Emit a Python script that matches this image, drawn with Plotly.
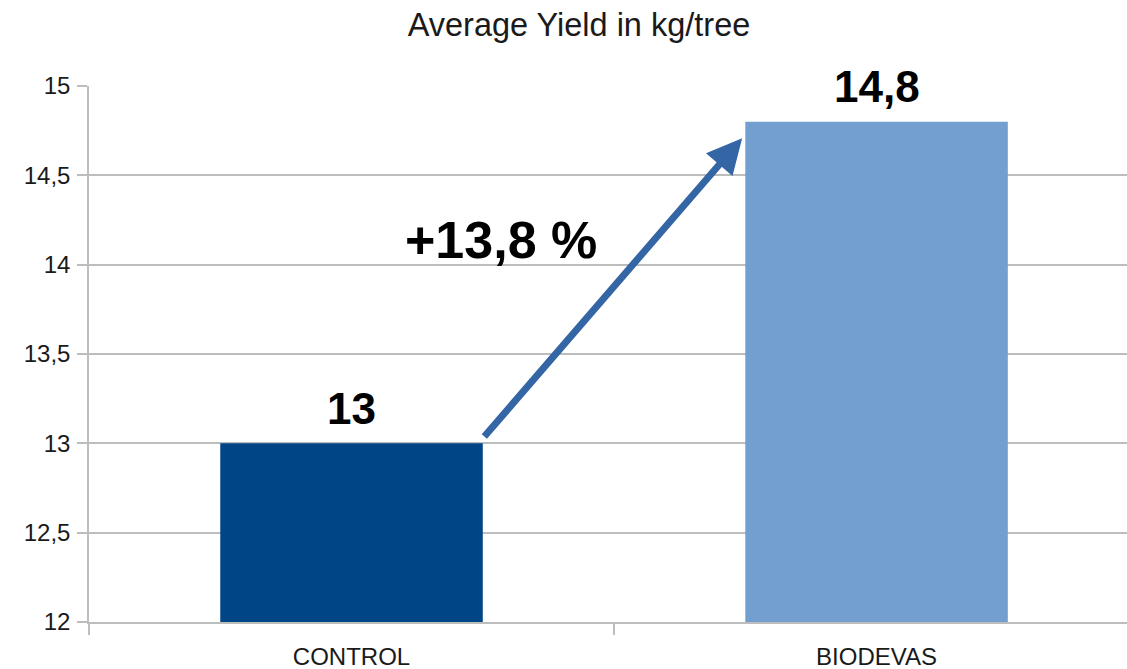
import plotly.graph_objects as go

categories = ["CONTROL", "BIODEVAS"]
values = [13, 14.8]
value_labels = ["13", "14,8"]
bar_colors = ["#004586", "#729fcf"]
change_label = "+13,8 %"
title_text = "Average Yield in kg/tree"
y_ticks = [12, 12.5, 13, 13.5, 14, 14.5, 15]
y_tick_labels = ["12", "12,5", "13", "13,5", "14", "14,5", "15"]

FONT = "Liberation Sans, Arial, sans-serif"
GRID = "#bdbdbd"

fig = go.Figure()
fig.add_trace(go.Bar(
    x=categories, y=values, marker=dict(color=bar_colors, line=dict(width=0)),
    width=0.5, hoverinfo="skip", showlegend=False,
))

# value labels above bars
for c, v, t in zip(categories, values, value_labels):
    fig.add_annotation(x=c, y=v, xref="x", yref="y", text=t, showarrow=False,
                       yanchor="middle", xanchor="center", yshift=35, xshift=0,
                       font=dict(family=FONT, size=44, color="#000000", weight="bold"))

# arrow from CONTROL top-right to BIODEVAS top-left
fig.add_annotation(x=0.744, y=14.708, ax=0.2505, ay=13.03, xref="x", yref="y",
                   axref="x", ayref="y", text="", showarrow=True,
                   arrowhead=2, arrowsize=1, arrowwidth=7, arrowcolor="#3465a4",
                   standoff=0, startstandoff=0)

fig.add_annotation(x=0.2848, y=14.137, xref="x", yref="y", text=change_label,
                   showarrow=False, xanchor="center", yanchor="middle",
                   font=dict(family=FONT, size=52, color="#000000", weight="bold"))

fig.update_layout(
    width=1127, height=669,
    margin=dict(l=89, r=0, t=86, b=47, autoexpand=False),
    paper_bgcolor="white", plot_bgcolor="white",
    separators=",.",
    title=dict(text=title_text, x=579 / 1127, xref="container", xanchor="center",
               y=1 - 25 / 669, yref="container", yanchor="middle",
               font=dict(family=FONT, size=32.5, color="#1a1a1a"), automargin=False),
    font=dict(family=FONT, color="#1a1a1a"),
    bargap=0.5,
)
fig.update_xaxes(
    range=[-0.5, 1.477], tickson="boundaries", ticks="outside", ticklen=11,
    tickcolor=GRID, tickwidth=1.5, showline=True, linecolor=GRID, linewidth=1.5,
    showgrid=False, tickfont=dict(family=FONT, size=24, color="#1a1a1a"),
    ticklabelstandoff=12, fixedrange=True, automargin=False,
)
fig.update_yaxes(
    range=[12, 15], tickvals=y_ticks, ticktext=y_tick_labels,
    ticks="outside", ticklen=10, tickcolor=GRID, tickwidth=1.5,
    showline=True, linecolor=GRID, linewidth=1.5,
    showgrid=True, gridcolor=GRID, gridwidth=1.5, zeroline=False,
    tickfont=dict(family=FONT, size=24, color="#1a1a1a"), fixedrange=True,
    ticklabelstandoff=2, automargin=False,
)

fig.write_html("out.html", config={"displayModeBar": False},
               post_script="document.body.style.margin='0';"
                           "document.documentElement.style.overflow='hidden';"
                           "document.body.style.overflow='hidden';")
